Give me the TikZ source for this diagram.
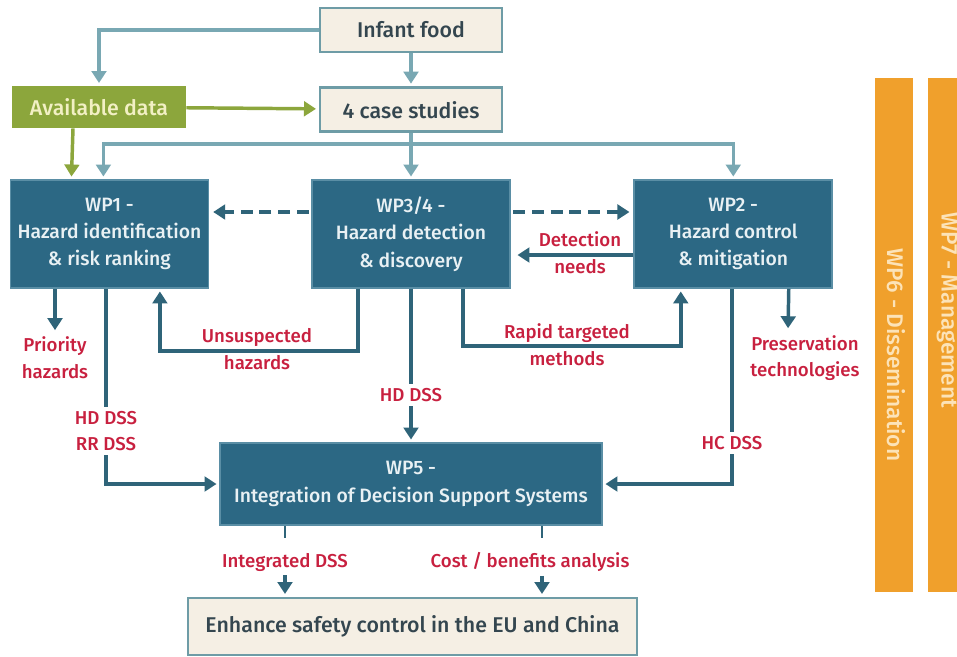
\documentclass[tikz,border=0pt]{standalone}
\usepackage{fontspec}
\setmainfont{Fira Sans}[BoldFont={Fira Sans Medium}]
\usetikzlibrary{positioning,calc,arrows.meta}

\definecolor{wpblue}{HTML}{2C6884}
\definecolor{wpedge}{HTML}{5A8EA5}
\definecolor{wptext}{HTML}{E9F1F4}
\definecolor{beige}{HTML}{F5EFE4}
\definecolor{beigeedge}{HTML}{6E9CA6}
\definecolor{slate}{HTML}{34464F}
\definecolor{lightteal}{HTML}{79A8B3}
\definecolor{darkteal}{HTML}{2F6479}
\definecolor{olive}{HTML}{8CA63C}
\definecolor{olivetext}{HTML}{F2F0C4}
\definecolor{lblred}{HTML}{C8203F}
\definecolor{barorange}{HTML}{F0A02C}
\definecolor{bartext}{HTML}{FCE3B8}

\begin{document}
\begin{tikzpicture}[x=0.75pt, y=0.75pt,
    wpbox/.style={rectangle, fill=wpblue, draw=wpedge, line width=1.2pt, text=wptext,
                  align=center, minimum width=148.5pt, minimum height=81pt,
                  font=\fontsize{14.5}{20.5}\selectfont\bfseries},
    casebox/.style={rectangle, fill=beige, draw=beigeedge, line width=2pt, text=slate,
                    minimum width=136.5pt, minimum height=33pt,
                    font=\fontsize{16}{19}\selectfont\bfseries},
    lbl/.style={text=lblred, align=center, inner sep=3pt,
                font=\fontsize{14}{20}\selectfont\bfseries},
    bar/.style={rectangle, fill=barorange, minimum width=28.5pt, minimum height=385.5pt},
    bartxt/.style={text=bartext, rotate=-90, font=\fontsize{17}{20}\selectfont\bfseries},
    lightarrow/.style={draw=lightteal, line width=2.6pt, -{Triangle[length=9pt,width=11pt]}, shorten >=2pt},
    greenarrow/.style={draw=olive, line width=2.6pt, -{Triangle[length=9pt,width=11pt]}, shorten >=2pt},
    darkline/.style={draw=darkteal, line width=2.6pt},
    darkarrow/.style={darkline, -{Triangle[length=9pt,width=11pt]}, shorten >=2pt},
    dasharrow/.style={darkarrow, dash pattern=on 9pt off 5pt, shorten >=3pt, shorten <=2pt}]

  \clip (0,0) rectangle (957,-657);
  \fill [white] (0,0) rectangle (957,-657);

  % top: food and case studies
  \node [casebox] at (411,-30) (food) {Infant food};
  \node [casebox, below=24.75pt of food] (cases) {4 case studies};
  \node [casebox, fill=olive, draw=olive, text=olivetext, minimum width=129pt, minimum height=30pt]
        at (99,-107) (avail) {Available data};

  % work packages
  \node [wpbox] at (411,-234) (wp34)
        {WP3/4 -\\
         Hazard detection\\
         \& discovery};
  \node [wpbox, left=76.5pt of wp34] (wp1)
        {WP1 -\\
         Hazard identification\\
         \& risk ranking};
  \node [wpbox, right=92pt of wp34] (wp2)
        {WP2 -\\
         Hazard control\\
         \& mitigation};
  \node [wpbox, minimum width=286.5pt, minimum height=61.5pt] at (411,-484) (wp5)
        {WP5 -\\
         Integration of Decision Support Systems};
  \node [casebox, minimum width=336.75pt, minimum height=42.75pt, font=\fontsize{16}{19}\selectfont\bfseries]
        at (412.5,-626.5) (enhance) {Enhance safety control in the EU and China};

  % side bars
  \node [bar] at (894,-335) (wp6bar) {};
  \node [bar] at (947,-335) (wp7bar) {};
  \node [bartxt] at (896,-355) (wp6) {WP6 - Dissemination};
  \node [bartxt] at (947,-310) (wp7) {WP7 - Management};

  % labels
  \node [lbl] at (580,-253) (detneeds) {Detection\\needs};
  \node [lbl] at (55,-358) (prio) {Priority\\hazards};
  \node [lbl] at (257,-349) (unsusp) {Unsuspected\\hazards};
  \node [lbl] at (567,-345) (rapid) {Rapid targeted\\methods};
  \node [lbl] at (805,-358) (preserv) {Preservation\\technologies};
  \node [lbl] at (106,-431) (hdrr) {HD DSS\\RR DSS};
  \node [lbl] at (411,-395) (hddss) {HD DSS};
  \node [lbl] at (732,-443) (hcdss) {HC DSS};
  \node [lbl] at (285,-562) (intdss) {Integrated DSS};
  \node [lbl] at (530,-562) (costben) {Cost / benefits analysis};
  \coordinate (split) at (411,-144);
  \coordinate (cbx) at (542,-562);

  % connectors
  \draw [lightarrow] (food.west) -| (avail.north);
  \draw [lightarrow] (food) -- (cases);
  \draw [greenarrow] (avail) -- (cases);
  \draw [greenarrow] ($(avail.south)+(-26,0)$) -- ($(wp1.north)+(-38,0)$);
  \draw [lightarrow] (cases) -- (wp34);
  \draw [lightarrow] (split) -| ($(wp1.north)+(-6,0)$);
  \draw [lightarrow] (split) -| (wp2.north);
  \draw [dasharrow] ($(wp34.west)+(0,22)$) -- ($(wp1.east)+(0,22)$);
  \draw [dasharrow] ($(wp34.east)+(0,22)$) -- ($(wp2.west)+(0,22)$);
  \draw [darkarrow, shorten >=5pt] ($(wp2.west)+(0,-21)$) -- ($(wp34.east)+(0,-21)$);
  \draw [darkarrow] (wp1.south -| prio) -- (prio.north);
  \draw [darkline] (wp1.south -| hdrr) -- (hdrr.north);
  \draw [darkarrow] (hdrr.south) |- (wp5.west);
  \draw [darkarrow] ($(wp34.south)+(-53,0)$) -- ++(0,-62) -| ($(wp1.south)+(50.5,0)$);
  \draw [darkarrow] ($(wp34.south)+(52,0)$) -- ++(0,-57) -| ($(wp2.south)+(-52.5,0)$);
  \draw [darkline] (wp34.south) -- (hddss.north);
  \draw [darkarrow] (hddss) -- (wp5);
  \draw [darkline] (wp2.south -| hcdss) -- (hcdss.north);
  \draw [darkarrow] (hcdss.south) |- (wp5.east);
  \draw [darkarrow] ($(wp2.south)+(55.5,0)$) -- ($(preserv.north)+(-17,0)$);
  \draw [darkline, line width=1.8pt] (wp5.south -| intdss) -- ++(0,-12);
  \draw [darkarrow] (intdss) -- (enhance.north -| intdss);
  \draw [darkline, line width=1.8pt] (wp5.south -| cbx) -- ++(0,-12);
  \draw [darkarrow] (costben.south -| cbx) -- (enhance.north -| cbx);
\end{tikzpicture}
\end{document}
